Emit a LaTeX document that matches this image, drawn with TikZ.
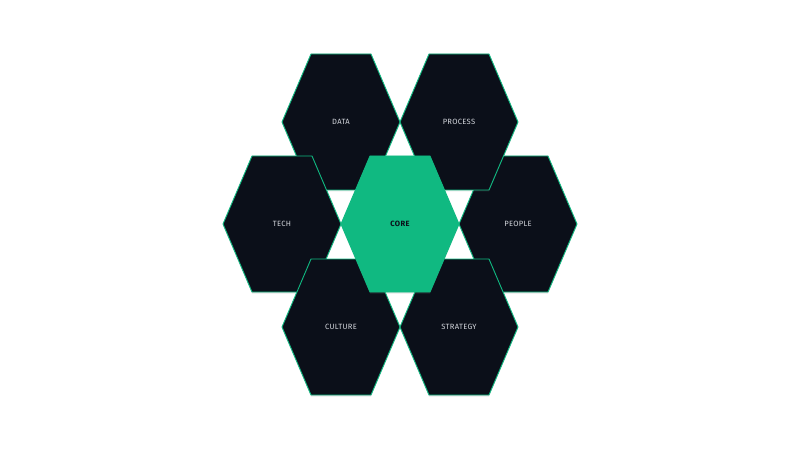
\documentclass[tikz,border=0pt]{standalone}
\usepackage{fontspec}
\setmainfont{Fira Sans}
\usepackage{tikz}
\usetikzlibrary{calc,shadows}

\definecolor{hexdark}{HTML}{0B0F19}
\definecolor{hexgreen}{HTML}{10B981}
\definecolor{hexlabel}{HTML}{D3D6DC}

\tikzset{
  hexcell/.style={draw=hexgreen, line width=0.9pt, fill=hexdark, line join=miter,
    drop shadow={shadow xshift=0pt, shadow yshift=-1.5pt, opacity=0.18}},
  corecell/.style={hexcell, fill=hexgreen},
  celltext/.style={inner sep=0pt, text=hexlabel,
    font=\fontsize{7.6}{9}\selectfont\addfontfeatures{LetterSpace=4}},
  coretext/.style={celltext, text=hexdark,
    font=\fontsize{7.6}{9}\selectfont\bfseries\addfontfeatures{LetterSpace=4}}
}

\begin{document}
\begin{tikzpicture}[x=1pt,y=-1pt]
  \useasboundingbox (0,0) rectangle (800,449);

  %% Ring of cells, drawn anticlockwise from the right
  \foreach \name/\x/\y in {PEOPLE/518/224, PROCESS/459/122, DATA/341/122,
                           TECH/282/224, CULTURE/341/327, STRATEGY/459/327}
  {
    \path[hexcell] ({\x-59},\y) -- ({\x-30},{\y-68}) -- ({\x+30},{\y-68})
      -- ({\x+59},\y) -- ({\x+30},{\y+68}) -- ({\x-30},{\y+68}) -- cycle;
    \node[celltext] (\name) at (\x,\y) {\name};
  }

  %% Centre cell on top
  \path[corecell] (341,224) -- (370,156) -- (430,156)
    -- (459,224) -- (430,292) -- (370,292) -- cycle;
  \node[coretext] (CORE) at (400,224) {CORE};
\end{tikzpicture}
\end{document}
